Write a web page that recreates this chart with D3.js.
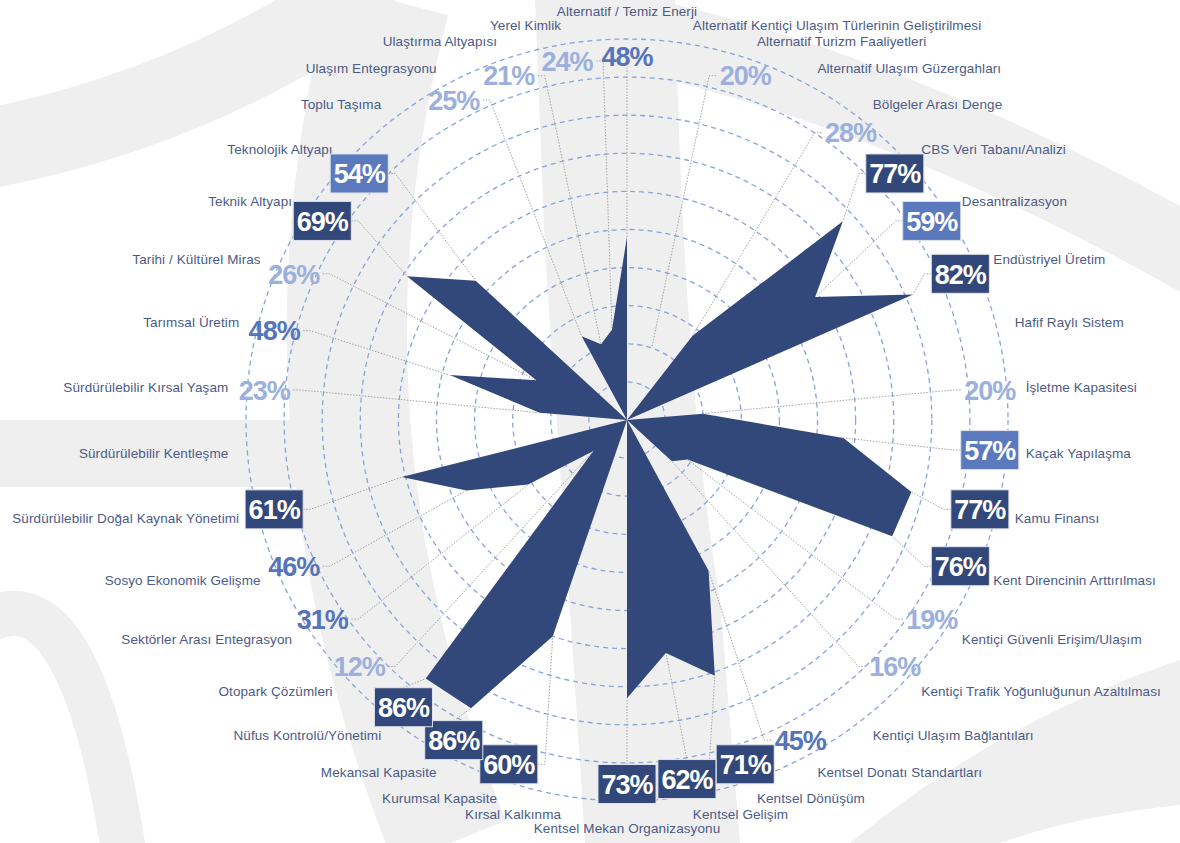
<!DOCTYPE html>
<html><head><meta charset="utf-8">
<script src="https://cdn.jsdelivr.net/npm/d3@7"></script>
<style>
html,body{margin:0;padding:0;background:#fff;}
svg{display:block;}
.name{font-family:"Liberation Sans",Arial,sans-serif;font-size:13.5px;letter-spacing:0.1px;fill:#4b5b86;}
.val{font-family:"Liberation Sans",Arial,sans-serif;font-weight:bold;font-size:27px;letter-spacing:-1px;}
</style></head><body>
<svg id="chart" width="1180" height="843"></svg>
<script>
// Categories, clockwise from the top
const categories = [
  "Alternatif / Temiz Enerji",
  "Alternatif Kentiçi Ulaşım Türlerinin Geliştirilmesi",
  "Alternatif Turizm Faaliyetleri",
  "Alternatif Ulaşım Güzergahları",
  "Bölgeler Arası Denge",
  "CBS Veri Tabanı/Analizi",
  "Desantralizasyon",
  "Endüstriyel Üretim",
  "Hafif Raylı Sistem",
  "İşletme Kapasitesi",
  "Kaçak Yapılaşma",
  "Kamu Finansı",
  "Kent Direncinin Arttırılması",
  "Kentiçi Güvenli Erişim/Ulaşım",
  "Kentiçi Trafik Yoğunluğunun Azaltılması",
  "Kentiçi Ulaşım Bağlantıları",
  "Kentsel Donatı Standartları",
  "Kentsel Dönüşüm",
  "Kentsel Gelişim",
  "Kentsel Mekan Organizasyonu",
  "Kırsal Kalkınma",
  "Kurumsal Kapasite",
  "Mekansal Kapasite",
  "Nüfus Kontrolü/Yönetimi",
  "Otopark Çözümleri",
  "Sektörler Arası Entegrasyon",
  "Sosyo Ekonomik Gelişme",
  "Sürdürülebilir Doğal Kaynak Yönetimi",
  "Sürdürülebilir Kentleşme",
  "Sürdürülebilir Kırsal Yaşam",
  "Tarımsal Üretim",
  "Tarihi / Kültürel Miras",
  "Teknik Altyapı",
  "Teknolojik Altyapı",
  "Toplu Taşıma",
  "Ulaşım Entegrasyonu",
  "Ulaştırma Altyapısı",
  "Yerel Kimlik"
];

// Share of plans addressing each topic (%)
const values = [
  48, 0, 20, 0, 28, 77, 59, 82, 0, 20,
  57, 77, 76, 19, 16, 0, 45, 71, 62, 73,
  0, 60, 86, 86, 12, 31, 46, 61, 0, 23,
  48, 26, 69, 54, 0, 25, 21, 24
];

// Radial grid levels (%)
const ringLevels = [10, 20, 30, 40, 50, 60, 70, 80, 90, 100];

const cx = 627, cy = 420, R = 381;
const labelRadius = 364, nameRadius = 400;

const svg = d3.select("#chart");
const rScale = d3.scaleLinear().domain([0, 100]).range([0, R]);
const aScale = d3.scaleLinear().domain([0, categories.length]).range([0, 2 * Math.PI]);
const pos = (i, r) => [cx + r * Math.sin(aScale(i)), cy - r * Math.cos(aScale(i))];

// ---- decorative background swooshes ----
const bg = svg.append("g").attr("fill", "none").attr("stroke", "#efefef");
bg.append("path").attr("d", "M -20 150 Q 200 110 380 -20").attr("stroke-width", 80);
bg.append("path").attr("d", "M 390 0 Q 280 420 450 843").attr("stroke-width", 120);
bg.append("path").attr("d", "M 620 30 Q 900 90 1200 260").attr("stroke-width", 75);
bg.append("path").attr("d", "M -20 625 Q 80 560 125 860").attr("stroke-width", 45);
svg.append("rect").attr("x", 0).attr("y", 420).attr("width", 330).attr("height", 67).attr("fill", "#efefef");
svg.append("path").attr("fill", "#efefef")
  .attr("d", "M 535 0 L 675 0 C 680 200 690 420 720 600 L 740 843 L 585 843 C 570 600 555 400 545 250 Z");
svg.append("path").attr("fill", "#efefef")
  .attr("d", "M 1180 660 Q 1000 720 850 843 L 1000 843 Q 1080 815 1180 805 Z");

// ---- radial grid ----
const plot = svg.append("g").attr("transform", `translate(${cx},${cy})`);
plot.selectAll("circle.ring").data(ringLevels).join("circle")
  .attr("class", "ring")
  .attr("r", d => rScale(d))
  .attr("fill", "none")
  .attr("stroke", "#8aa3da")
  .attr("stroke-width", 1.3)
  .attr("stroke-dasharray", "5,4");

// ---- value labels: style tiers ----
function tier(v) {
  if (v >= 60) return { box: "#32487a", text: "#ffffff" };
  if (v >= 50) return { box: "#5b79bd", text: "#ffffff" };
  if (v >= 30) return { box: null, text: "#5574bb" };
  return { box: null, text: "#9bb0dc" };
}

const labelData = values.map((v, i) => ({ v, i })).filter(d => d.v > 0);

// leader lines layer (below the polygon)
const leaderLayer = svg.append("g");

// ---- the data polygon ----
const radial = d3.lineRadial()
  .angle((d, i) => aScale(i))
  .radius(d => rScale(d))
  .curve(d3.curveLinearClosed);
plot.append("path")
  .datum(values)
  .attr("d", radial)
  .attr("fill", "#32487a")
  .attr("fill-rule", "evenodd");

// ---- category names ----
svg.append("g").selectAll("text").data(categories).join("text")
  .attr("class", "name")
  .each(function (d, i) {
    const a = aScale(i);
    const s = Math.sin(a), c = Math.cos(a);
    const [x, y] = pos(i, nameRadius);
    let anchor = "middle", dy = 0;
    if (Math.abs(s) < 0.01) { dy = c > 0 ? -9 : 8; }
    else anchor = s > 0 ? "start" : "end";
    d3.select(this)
      .attr("x", x).attr("y", y + dy)
      .attr("dy", "0.35em")
      .attr("text-anchor", anchor)
      .text(d);
  });

// ---- value labels with leader lines ----
const labelLayer = svg.append("g");
labelData.forEach(d => {
  const st = tier(d.v);
  const [lx, ly] = pos(d.i, labelRadius);
  const g = labelLayer.append("g");
  const t = g.append("text")
    .attr("class", "val")
    .attr("x", lx).attr("y", ly)
    .attr("dy", "0.36em")
    .attr("text-anchor", "middle")
    .attr("fill", st.text)
    .text(d.v + "%");
  const w = t.node().getComputedTextLength();
  const bw = w + 7, bh = 39;
  if (st.box) {
    g.insert("rect", "text")
      .attr("x", lx - bw / 2).attr("y", ly - bh / 2)
      .attr("width", bw).attr("height", bh)
      .attr("fill", st.box)
      .attr("stroke", "#dfe3ec").attr("stroke-width", 1);
  }
  // leader from the data point to the label edge
  const [px, py] = pos(d.i, rScale(d.v));
  const half = bw / 2;
  let pts;
  if (Math.abs(px - lx) <= half) {
    const ey = py < ly ? ly - bh / 2 + (st.box ? 0 : 8) : ly + bh / 2 - (st.box ? 0 : 8);
    pts = [[lx, ey], [px, py]];
  } else {
    const side = px > lx ? 1 : -1;
    const ex = lx + side * half;
    pts = [[ex, ly], [ex + side * 7, ly], [px, py]];
  }
  leaderLayer.append("path")
    .attr("d", d3.line()(pts))
    .attr("fill", "none")
    .attr("stroke", "#a3a3a3")
    .attr("stroke-width", 1)
    .attr("stroke-dasharray", "1.5,1.5");
});
</script>
</body></html>
